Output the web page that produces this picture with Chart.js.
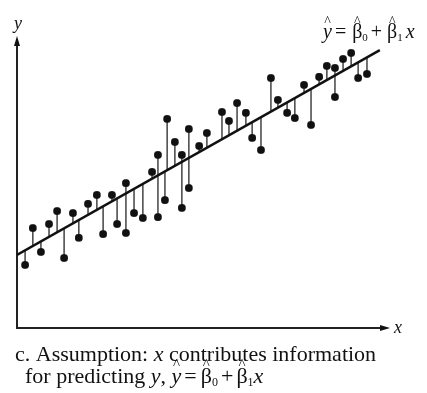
<!DOCTYPE html>
<html>
<head>
<meta charset="utf-8">
<script src="https://cdn.jsdelivr.net/npm/chart.js@4/dist/chart.umd.min.js"></script>
<style>
    html, body { margin: 0; padding: 0; background: #fff; }
    #wrap { width: 427px; height: 393px; }
</style>
</head>
<body>
<div id="wrap"><canvas id="chart" width="427" height="393"></canvas></div>
<script>
// Observações (x, y)
const obsX = [0.22, 0.43, 0.65, 0.87, 1.09, 1.28, 1.52, 1.68, 1.93, 2.17,
              2.34, 2.58, 2.72, 2.96, 2.96, 3.18, 3.42, 3.67, 3.83, 3.83,
              4.02, 4.08, 4.29, 4.48, 4.48, 4.67, 4.67, 4.95, 5.16, 5.57,
              5.76, 5.98, 6.22, 6.39, 6.63, 6.90, 7.09, 7.34, 7.55, 7.80,
              7.99, 8.21, 8.42, 8.64, 8.64, 8.86, 9.08, 9.27, 9.51];
const obsY = [2.19, 3.47, 2.64, 3.61, 4.06, 2.43, 3.99, 3.13, 4.31, 4.62,
              3.26, 4.62, 3.61, 5.03, 3.30, 3.99, 3.82, 5.42, 6.01, 3.85,
              4.44, 7.26, 6.46, 6.01, 4.17, 6.91, 4.86, 6.32, 6.77, 7.50,
              7.19, 7.81, 7.47, 6.60, 6.18, 8.68, 7.92, 7.47, 7.29, 8.44,
              7.05, 8.72, 9.10, 9.03, 8.02, 9.34, 9.55, 8.68, 8.82];

// Reta ajustada (extremos)
const fitX = [0, 9.86];
const fitY = [2.54, 9.65];

// Valor ajustado sobre a reta para um x
function fitted(x) {
    return fitY[0] + (fitY[1] - fitY[0]) * (x - fitX[0]) / (fitX[1] - fitX[0]);
}

// Segmentos dos resíduos (ponto -> reta), separados por lacunas
const residuals = [];
obsX.forEach((x, i) => {
    residuals.push({ x: x, y: obsY[i] });
    residuals.push({ x: x, y: fitted(x) });
    residuals.push({ x: x, y: null });
});

const serif = '"Liberation Serif", "DejaVu Serif", serif';

// Escreve um símbolo com chapéu (^) por cima
function hatText(ctx, txt, x, y, size) {
    ctx.fillText(txt, x, y);
    const w = ctx.measureText(txt).width;
    ctx.save();
    ctx.font = `${Math.round(size * 0.7)}px ${serif}`;
    ctx.textAlign = 'center';
    ctx.fillText('^', x + w / 2, y - size * 0.62);
    ctx.restore();
    return w;
}

// Escreve um trecho e devolve o novo x
function put(ctx, txt, x, y, font) {
    ctx.font = font;
    ctx.fillText(txt, x, y);
    return x + ctx.measureText(txt).width;
}

// Textos, setas e equações
const annotations = {
    id: 'annotations',
    afterDraw(chart) {
        const ctx = chart.ctx;
        const area = chart.chartArea;
        ctx.save();
        ctx.fillStyle = '#111';
        ctx.strokeStyle = '#111';

        // seta do eixo y
        ctx.beginPath();
        ctx.moveTo(area.left, area.top - 4);
        ctx.lineTo(area.left - 3, area.top + 6);
        ctx.lineTo(area.left + 3, area.top + 6);
        ctx.closePath();
        ctx.fill();

        // seta do eixo x
        ctx.beginPath();
        ctx.moveTo(area.right + 5, area.bottom);
        ctx.lineTo(area.right - 5, area.bottom - 3);
        ctx.lineTo(area.right - 5, area.bottom + 3);
        ctx.closePath();
        ctx.fill();

        ctx.textBaseline = 'alphabetic';
        put(ctx, 'y', 14, 29, `italic 18px ${serif}`);
        put(ctx, 'x', area.right + 9, area.bottom + 5, `italic 18px ${serif}`);

        // equação no canto superior
        let ex = 323, ey = 38;
        const eq = 20;
        ctx.font = `italic ${eq}px ${serif}`;
        ex += hatText(ctx, 'y', ex, ey, eq) + 3;
        ex = put(ctx, '= ', ex, ey, `${eq}px ${serif}`) + 1;
        ctx.font = `${eq}px ${serif}`;
        ex += hatText(ctx, 'β', ex, ey, eq);
        ex = put(ctx, '0', ex, ey + 3, `11px ${serif}`) + 3;
        ex = put(ctx, '+ ', ex, ey, `${eq}px ${serif}`);
        ctx.font = `${eq}px ${serif}`;
        ex += hatText(ctx, 'β', ex, ey, eq);
        ex = put(ctx, '1', ex, ey + 3, `11px ${serif}`) + 3;
        put(ctx, 'x', ex, ey, `italic ${eq}px ${serif}`);

        // legenda inferior
        const cs = 22;
        let cx = 15, cy = 361;
        cx = put(ctx, 'c. Assumption: ', cx, cy, `${cs}px ${serif}`);
        cx = put(ctx, 'x', cx, cy, `italic ${cs}px ${serif}`);
        put(ctx, ' contributes information', cx, cy, `${cs}px ${serif}`);

        cx = 25; cy = 383;
        cx = put(ctx, 'for predicting ', cx, cy, `${cs}px ${serif}`);
        cx = put(ctx, 'y', cx, cy, `italic ${cs}px ${serif}`);
        cx = put(ctx, ', ', cx, cy, `${cs}px ${serif}`);
        ctx.font = `italic ${cs}px ${serif}`;
        cx += hatText(ctx, 'y', cx, cy, cs) + 3;
        cx = put(ctx, '=', cx, cy, `${cs}px ${serif}`) + 4;
        ctx.font = `${cs}px ${serif}`;
        cx += hatText(ctx, 'β', cx, cy, cs);
        cx = put(ctx, '0', cx, cy + 3, `12px ${serif}`) + 3;
        cx = put(ctx, '+', cx, cy, `${cs}px ${serif}`) + 3;
        ctx.font = `${cs}px ${serif}`;
        cx += hatText(ctx, 'β', cx, cy, cs);
        cx = put(ctx, '1', cx, cy + 3, `12px ${serif}`);
        put(ctx, 'x', cx, cy, `italic ${cs}px ${serif}`);

        ctx.restore();
    }
};

new Chart(document.getElementById('chart'), {
    type: 'scatter',
    data: {
        datasets: [
            {
                type: 'line',
                data: residuals,
                borderColor: '#444',
                borderWidth: 1.5,
                pointRadius: 0,
                spanGaps: false,
                order: 3
            },
            {
                type: 'line',
                data: fitX.map((x, i) => ({ x: x, y: fitY[i] })),
                borderColor: '#111',
                borderWidth: 2.5,
                pointRadius: 0,
                order: 2
            },
            {
                data: obsX.map((x, i) => ({ x: x, y: obsY[i] })),
                backgroundColor: '#111',
                borderColor: '#111',
                pointRadius: 3.8,
                pointStyle: 'rectRounded',
                order: 1
            }
        ]
    },
    options: {
        responsive: false,
        animation: false,
        layout: { padding: { left: 9, right: 42, top: 40, bottom: 57 } },
        plugins: { legend: { display: false }, tooltip: { enabled: false } },
        scales: {
            x: {
                min: 0, max: 10,
                grid: { display: false },
                ticks: { display: false },
                border: { display: true, color: '#222', width: 2 }
            },
            y: {
                min: 0, max: 10,
                grid: { display: false },
                ticks: { display: false },
                border: { display: true, color: '#222', width: 2 }
            }
        }
    },
    plugins: [annotations]
});
</script>
</body>
</html>
